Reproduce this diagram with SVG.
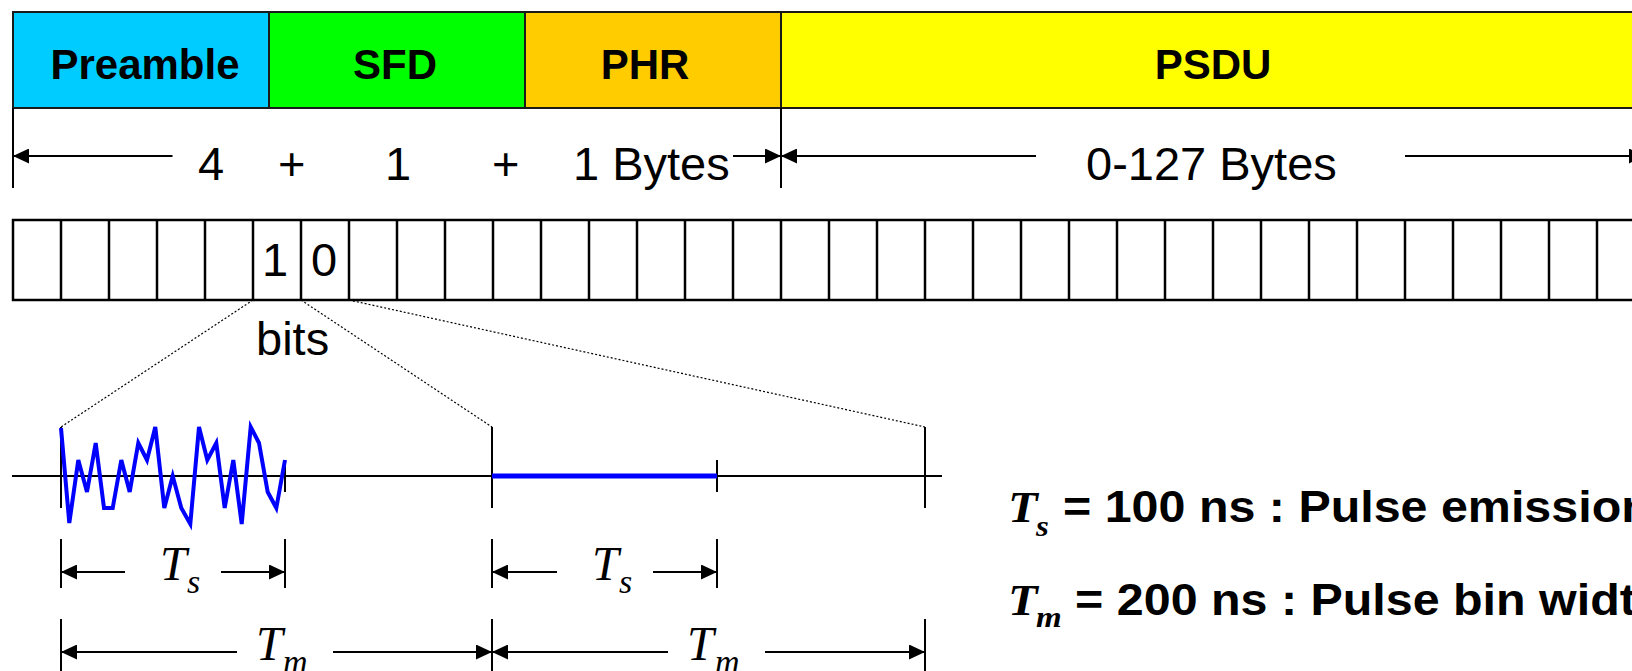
<svg xmlns="http://www.w3.org/2000/svg" width="1632" height="671" viewBox="0 0 1632 671">
<style>
.field{stroke:#1a1a1a;stroke-width:2}
.lbl{font-family:"Liberation Sans",Arial,sans-serif;font-weight:bold;font-size:42px;text-anchor:middle;fill:#000}
.reg{font-family:"Liberation Sans",Arial,sans-serif;font-size:47px;fill:#000}
.ln{stroke:#000;stroke-width:2;fill:none}
.cell{stroke:#000;stroke-width:2.5;fill:#fff}
.dot{stroke:#000;stroke-width:1.2;stroke-dasharray:2,2;fill:none}
.arr{stroke:#000;stroke-width:2;fill:none;marker-end:url(#ah)}
.wave{stroke:#0000FF;stroke-width:4;fill:none;stroke-linejoin:miter}
.ti{font-family:"Liberation Serif","Times New Roman",serif;font-style:italic;fill:#000}
.bl{font-family:"Liberation Sans",Arial,sans-serif;font-weight:bold;font-size:44px;fill:#000}
</style>
<defs>
<marker id="ah" viewBox="0 0 16 15" refX="16" refY="7.5" markerWidth="16" markerHeight="15" markerUnits="userSpaceOnUse" orient="auto">
<path d="M0,0 L16,7.5 L0,15 z" fill="#000"/>
</marker>
</defs>
<rect width="1632" height="671" fill="#fff"/>

<g id="field-preamble"><rect class="field" x="13" y="12" width="256" height="96" fill="#00CCFF"/><text class="lbl" x="145" y="79">Preamble</text></g>
<g id="field-sfd"><rect class="field" x="269" y="12" width="256" height="96" fill="#00FF00"/><text class="lbl" x="395" y="79">SFD</text></g>
<g id="field-phr"><rect class="field" x="525" y="12" width="256" height="96" fill="#FFCC00"/><text class="lbl" x="645" y="79">PHR</text></g>
<g id="field-psdu"><rect class="field" x="781" y="12" width="900" height="96" fill="#FFFF00"/><text class="lbl" x="1213" y="79">PSDU</text></g>

<g id="lengths">
<line class="ln" x1="13" y1="108" x2="13" y2="188"/>
<line class="ln" x1="781" y1="108" x2="781" y2="188"/>
<text class="reg" x="198" y="180">4</text>
<text class="reg" x="278" y="180">+</text>
<text class="reg" x="385" y="180">1</text>
<text class="reg" x="492" y="180">+</text>
<text class="reg" x="573" y="180">1 Bytes</text>
<text class="reg" x="1086" y="180">0-127 Bytes</text>
</g>

<g id="bits">
<rect class="cell" x="13" y="220" width="1680" height="80"/>
<path class="cell" d="M61,220V300M109,220V300M157,220V300M205,220V300M253,220V300M301,220V300M349,220V300M397,220V300M445,220V300M493,220V300M541,220V300M589,220V300M637,220V300M685,220V300M733,220V300M781,220V300M829,220V300M877,220V300M925,220V300M973,220V300M1021,220V300M1069,220V300M1117,220V300M1165,220V300M1213,220V300M1261,220V300M1309,220V300M1357,220V300M1405,220V300M1453,220V300M1501,220V300M1549,220V300M1597,220V300"/>
<text class="reg" x="262" y="276">1</text>
<text class="reg" x="311" y="276">0</text>
<text class="reg" x="256" y="355">bits</text>
</g>

<g id="waveform">
<line class="ln" x1="12" y1="476" x2="942" y2="476"/>
<path class="ln" d="M61,427V508M492,427V508M925,427V508M285,460V492M717,460V492"/>
<polyline class="wave" points="61,428 69.3,523 78.3,460 87,492 95.7,443 104,508 112.7,508 121.3,460 129.7,492 138.3,443 147,460 155.3,427 164.3,508 172.7,476 181.3,508 190.3,524 199,427 207.3,460 216.3,443 224.7,508 233.3,460 241.7,524 250.7,427 259,443 267.7,492 276.3,508 285,460"/>
<line x1="492" y1="476" x2="717" y2="476" stroke="#0000FF" stroke-width="5"/>
</g>

<g id="connectors">
<line class="arr" x1="172.5" y1="156" x2="13" y2="156"/>
<line class="arr" x1="733" y1="156" x2="781" y2="156"/>
<line class="arr" x1="1036" y1="156" x2="781" y2="156"/>
<line class="arr" x1="1405" y1="156" x2="1645" y2="156"/>
<line class="dot" x1="253" y1="300" x2="61" y2="427"/>
<line class="dot" x1="301" y1="300" x2="492" y2="427"/>
<line class="dot" x1="349" y1="300" x2="925" y2="427"/>
<path class="ln" d="M61,539V588M285,539V588M492,539V588M717,539V588M61,619V671M492,619V671M925,619V671"/>
<line class="arr" x1="125" y1="572" x2="61" y2="572"/>
<line class="arr" x1="221" y1="572" x2="285" y2="572"/>
<line class="arr" x1="557" y1="572" x2="492" y2="572"/>
<line class="arr" x1="653" y1="572" x2="717" y2="572"/>
<line class="arr" x1="237" y1="652" x2="61" y2="652"/>
<line class="arr" x1="333" y1="652" x2="492" y2="652"/>
<line class="arr" x1="668" y1="652" x2="492" y2="652"/>
<line class="arr" x1="765" y1="652" x2="925" y2="652"/>
</g>

<g id="dim-labels">
<text class="ti" x="160" y="580" font-size="48">T</text><text class="ti" x="187" y="593" font-size="34">s</text>
<text class="ti" x="592" y="580" font-size="48">T</text><text class="ti" x="619" y="593" font-size="34">s</text>
<text class="ti" x="256" y="660" font-size="48">T</text><text class="ti" x="283" y="673" font-size="34">m</text>
<text class="ti" x="687" y="660" font-size="48">T</text><text class="ti" x="715" y="673" font-size="34">m</text>
</g>

<g id="legend" transform="translate(1008,522) scale(1.1,1)">
<text class="ti" x="0" y="0" font-size="44" font-weight="bold">T</text><text class="ti" x="25.5" y="14" font-size="30" font-weight="bold">s</text>
<text class="bl" x="50" y="0">= 100 ns : Pulse emission</text>
<text class="ti" x="0" y="93" font-size="44" font-weight="bold">T</text><text class="ti" x="25.5" y="105" font-size="30" font-weight="bold">m</text>
<text class="bl" x="61" y="93">= 200 ns : Pulse bin width</text>
</g>
</svg>
